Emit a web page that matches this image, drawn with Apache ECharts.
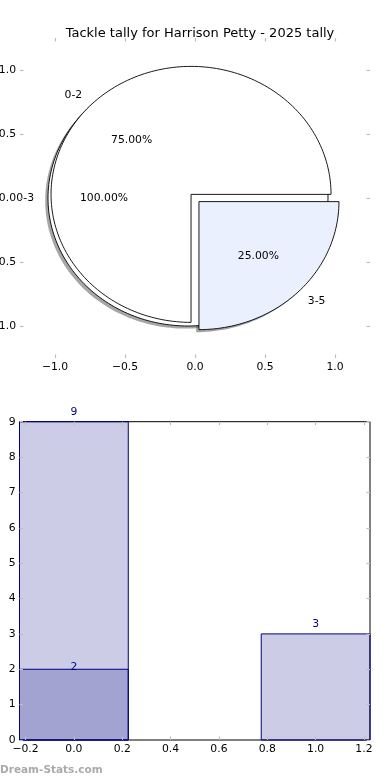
<!DOCTYPE html>
<html><head><meta charset="utf-8">
<script src="https://cdn.jsdelivr.net/npm/echarts@6/dist/echarts.min.js"></script>
<style>html,body{margin:0;padding:0;background:#fff}#c{width:390px;height:780px}</style>
</head><body><div id="c"></div>
<script>
// ---- data ----
const titleText = 'Tackle tally for Harrison Petty - 2025 tally';
const innerPieCats = ['0-3'];
const innerPieValues = [12];
const outerPieCats = ['0-2', '3-5'];
const outerPieValues = [9, 3];
const pieTicks = [-1.0, -0.5, 0.0, 0.5, 1.0];
const barPositions = [0, 1];
const barTotals = [9, 3];
const barSubPositions = [0];
const barSubValues = [2];
const barXTicks = [-0.2, 0.0, 0.2, 0.4, 0.6, 0.8, 1.0, 1.2];
const barYTicks = [0, 1, 2, 3, 4, 5, 6, 7, 8, 9];
const watermark = 'Dream-Stats.com';

// ---- style ----
const FONT = 'DejaVu Sans';
const FS = 10.8;
const innerExplode = [0.05];
const outerExplode = [0.04, 0.04];
const innerColors = ['#ffffff'];
const outerColors = ['#ffffff', '#eaf0fd'];
const barWidth = 0.45;
const tickColor = '#bdbdbd';

function buildSlices(cats, values, explode, colors, layer) {
  const total = values.reduce((a, b) => a + b, 0);
  let cum = 0;
  return values.map((v, i) => {
    const t1 = 360 * cum / total;
    cum += v;
    const t2 = 360 * cum / total;
    return { cat: cats[i], frac: v / total, t1, t2, explode: explode[i], color: colors[i], layer };
  });
}
const slices = buildSlices(innerPieCats, innerPieValues, innerExplode, innerColors, 0)
  .concat(buildSlices(outerPieCats, outerPieValues, outerExplode, outerColors, 1));

function wedgePoints(api, s, dx, dy) {
  const mid = (s.t1 + s.t2) / 2 * Math.PI / 180;
  const cx = s.explode * Math.cos(mid) + dx;
  const cy = s.explode * Math.sin(mid) + dy;
  const pts = [];
  const full = (s.t2 - s.t1) >= 359.999;
  if (!full) pts.push(api.coord([cx, cy]));
  const n = Math.max(8, Math.ceil((s.t2 - s.t1) / 1.5));
  for (let k = 0; k <= n; k++) {
    const a = (s.t1 + (s.t2 - s.t1) * k / n) * Math.PI / 180;
    pts.push(api.coord([cx + Math.cos(a), cy + Math.sin(a)]));
  }
  return { pts, cx, cy, mid };
}

function pieRender(params, api) {
  const s = slices[params.dataIndex];
  const sh = wedgePoints(api, s, -0.02, -0.02);
  const w = wedgePoints(api, s, 0, 0);
  const rgb = echarts.color.parse(s.color);
  const shColor = 'rgba(' + Math.round(rgb[0] * 0.3) + ',' + Math.round(rgb[1] * 0.3) + ',' + Math.round(rgb[2] * 0.3) + ',0.5)';
  const lx = w.cx + 1.1 * Math.cos(w.mid), ly = w.cy + 1.1 * Math.sin(w.mid);
  const px = w.cx + 0.6 * Math.cos(w.mid), py = w.cy + 0.6 * Math.sin(w.mid);
  const lp = api.coord([lx, ly]), pp = api.coord([px, py]);
  return {
    type: 'group',
    children: [
      { type: 'polygon', z2: 0, shape: { points: sh.pts }, style: { fill: shColor, stroke: null } },
      { type: 'polygon', z2: 10 + s.layer, shape: { points: w.pts }, style: { fill: s.color, stroke: '#000', lineWidth: 0.9 } },
      { type: 'text', z2: 20, x: lp[0], y: lp[1], style: { text: s.cat, fill: '#000', font: FS + 'px "' + FONT + '"', align: lx > 0 ? 'left' : 'right', verticalAlign: 'middle' } },
      { type: 'text', z2: 20, x: pp[0], y: pp[1], style: { text: (s.frac * 100).toFixed(2) + '%', fill: '#000', font: FS + 'px "' + FONT + '"', align: 'center', verticalAlign: 'middle' } }
    ]
  };
}

function barRenderFactory(xs, ys, labelGap) {
  return function (params, api) {
    const x = xs[params.dataIndex], y = ys[params.dataIndex];
    const p1 = api.coord([x - barWidth / 2, y]);
    const p2 = api.coord([x + barWidth / 2, 0]);
    const pc = api.coord([x, y]);
    return {
      type: 'group',
      children: [
        { type: 'rect', shape: { x: p1[0], y: p1[1], width: p2[0] - p1[0], height: p2[1] - p1[1] }, style: { fill: 'rgba(0,0,128,0.2)', stroke: '#000080', lineWidth: 1 } },
        { type: 'text', z2: 5, x: pc[0], y: pc[1] - labelGap, style: { text: String(y), fill: '#000080', font: FS + 'px "' + FONT + '"', align: 'center', verticalAlign: 'middle' } }
      ]
    };
  };
}

const labelStyle = { color: '#000', fontFamily: FONT, fontSize: FS };
function axisPair(gridIndex, min, max, ticks, isX, labels) {
  const base = {
    type: 'value', gridIndex, min, max, z: 10,
    splitLine: { show: false },
    axisLine: { show: false, onZero: false },
    axisTick: { show: true, inside: true, length: 3.5, lineStyle: { color: tickColor, width: 1.2 }, customValues: ticks },
  };
  const a = Object.assign({}, base, {
    position: isX ? 'bottom' : 'left',
    axisLabel: Object.assign({ show: labels, margin: 4, customValues: ticks, formatter: v => (v < 0 ? '\u2212' : '') + Math.abs(v).toFixed(isX ? 1 : (gridIndex === 0 ? 1 : 0)) }, labelStyle)
  });
  const b = Object.assign({}, base, { position: isX ? 'top' : 'right', axisLabel: { show: false } });
  return [a, b];
}

const chart = echarts.init(document.getElementById('c'), null, { renderer: 'canvas' });
chart.setOption({
  animation: false,
  backgroundColor: '#fff',
  title: { text: titleText, left: 195, top: 22, textAlign: 'center', textStyle: { fontFamily: FONT, fontSize: 13, fontWeight: 'normal', color: '#000' } },
  graphic: [{ type: 'text', left: 0, top: 765, style: { text: watermark, fill: '#aaaaaa', font: 'bold 10.5px "DejaVu Sans"' } }],
  grid: [
    { left: 20, right: 20, top: 38, height: 320, show: false, containLabel: false, outerBoundsMode: 'none' },
    { left: 19.5, right: 20, top: 421.7, height: 318.3, show: true, borderColor: '#000', borderWidth: 1, backgroundColor: 'transparent', containLabel: false, outerBoundsMode: 'none' }
  ],
  xAxis: [].concat(axisPair(0, -1.25, 1.25, pieTicks, true, true), axisPair(1, -0.225, 1.225, barXTicks, true, true)),
  yAxis: [].concat(axisPair(0, -1.25, 1.25, pieTicks, false, true), axisPair(1, 0, 9, barYTicks, false, true)),
  series: [
    { type: 'custom', xAxisIndex: 0, yAxisIndex: 0, clip: false, renderItem: pieRender, data: slices.map(() => [0, 0]), encode: { x: 0, y: 1 } },
    { type: 'custom', xAxisIndex: 2, yAxisIndex: 2, clip: false, z: 2, renderItem: barRenderFactory(barPositions, barTotals, 9.5), data: barPositions.map((x, i) => [x, barTotals[i]]), encode: { x: 0, y: 1 } },
    { type: 'custom', xAxisIndex: 2, yAxisIndex: 2, clip: false, z: 3, renderItem: barRenderFactory(barSubPositions, barSubValues, 2), data: barSubPositions.map((x, i) => [x, barSubValues[i]]), encode: { x: 0, y: 1 } }
  ]
});
</script></body></html>
